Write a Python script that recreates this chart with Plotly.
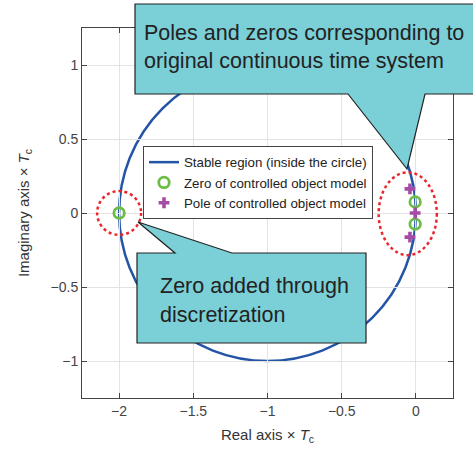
import plotly.graph_objects as go

# ---------------- data ----------------
zero_re = [-2.0, -0.005, -0.005]
zero_im = [0.0, 0.075, -0.075]
pole_re = [-0.04, -0.005, -0.04]
pole_im = [0.163, 0.0, -0.163]

circle_center = [-1.0, 0.0]
circle_radius = 1.0

# highlighted regions (center x, center y, half-width, half-height)
region_cx = [-2.0, -0.055]
region_cy = [0.0, -0.005]
region_rx = [0.148, 0.196]
region_ry = [0.148, 0.28]

x_ticks = [-2, -1.5, -1, -0.5, 0]
y_ticks = [-1, -0.5, 0, 0.5, 1]

legend_names = ["Stable region (inside the circle)",
                "Zero of controlled object model",
                "Pole of controlled object model"]
callout_top = ["Poles and zeros corresponding to", "original continuous time system"]
callout_bottom = ["Zero added through", "discretization"]

# ---------------- layout geometry ----------------
W, H = 473, 450
ML, MR, MT, MB = 82, 20, 28, 52
PW, PH = W - ML - MR, H - MT - MB


def px(x):
    return (x - ML) / PW


def py(y):
    return (H - MB - y) / PH


FONT = "Liberation Sans, Arial, sans-serif"
BLUE = "#2454a6"
GREEN = "#6cbd45"
PURPLE = "#a64ca6"
RED = "#e8262c"
TEAL = "#7bcfd7"

fig = go.Figure()

fig.add_trace(go.Scatter(x=[None], y=[None], mode="lines", name=legend_names[0],
                         line=dict(color=BLUE, width=2.5)))
fig.add_trace(go.Scatter(x=zero_re, y=zero_im, mode="markers", name=legend_names[1],
                         marker=dict(symbol="circle-open", size=10.5, color=GREEN,
                                     line=dict(width=2.8, color=GREEN))))
fig.add_trace(go.Scatter(x=pole_re, y=pole_im, mode="markers", name=legend_names[2],
                         marker=dict(symbol="cross", size=9, color=PURPLE,
                                     line=dict(width=0))))

shapes = []
# stable region circle
shapes.append(dict(type="circle", xref="x", yref="y", layer="below",
                   x0=circle_center[0] - circle_radius, x1=circle_center[0] + circle_radius,
                   y0=circle_center[1] - circle_radius, y1=circle_center[1] + circle_radius,
                   line=dict(color=BLUE, width=2.5)))
# dotted highlight ellipses
for cx, cy, rx, ry in zip(region_cx, region_cy, region_rx, region_ry):
    shapes.append(dict(type="circle", xref="x", yref="y", layer="above",
                       x0=cx - rx, x1=cx + rx, y0=cy - ry, y1=cy + ry,
                       line=dict(color=RED, width=2.5, dash="dot")))


def poly(points):
    return "M " + " L ".join(f"{px(a):.5f},{py(b):.5f}" for a, b in points) + " Z"


top_pts = [(135, 4), (480, 4), (480, 94), (425, 94), (407, 169), (348, 94), (135, 94)]
bot_pts = [(137, 253), (175, 253), (138, 222), (232, 253), (366, 253), (366, 343), (137, 343)]
for pts in (top_pts, bot_pts):
    shapes.append(dict(type="path", xref="paper", yref="paper", layer="above",
                       path=poly(pts), fillcolor=TEAL,
                       line=dict(color="#222222", width=1.2)))

annotations = []
for i, t in enumerate(callout_top):
    annotations.append(dict(text=t, xref="paper", yref="paper", x=px(142), y=py(33 + 28 * i),
                            xanchor="left", yanchor="middle", showarrow=False,
                            font=dict(family=FONT, size=21.5, color="#222222")))
for i, t in enumerate(callout_bottom):
    annotations.append(dict(text=t, xref="paper", yref="paper", x=px(158), y=py(286 + 29 * i),
                            xanchor="left", yanchor="middle", showarrow=False,
                            font=dict(family=FONT, size=21.5, color="#222222")))

axis_common = dict(showline=True, linecolor="#444444", linewidth=1, mirror="ticks",
                   ticks="inside", ticklen=5, tickcolor="#444444",
                   showgrid=True, gridcolor="#e3e3e3", gridwidth=1, zeroline=False,
                   tickfont=dict(family=FONT, size=14, color="#444444"))

fig.update_layout(
    width=W, height=H,
    margin=dict(l=ML, r=MR, t=MT, b=MB),
    paper_bgcolor="white", plot_bgcolor="white",
    font=dict(family=FONT, color="#333333"),
    showlegend=True,
    legend=dict(x=px(143), y=py(146), xanchor="left", yanchor="top",
                bgcolor="white", bordercolor="#444444", borderwidth=1,
                font=dict(family=FONT, size=13.3, color="#222222"),
                tracegroupgap=0, itemwidth=30),
    xaxis=dict(range=[-2.25, 0.25], tickvals=x_ticks, automargin=False,
               title=dict(text="Real axis × <i>T</i><sub>c</sub>", standoff=11,
                          font=dict(family=FONT, size=15, color="#333333")),
               **axis_common),
    yaxis=dict(range=[-1.25, 1.25], tickvals=y_ticks, automargin=False,
               title=dict(text="Imaginary axis × <i>T</i><sub>c</sub>", standoff=17,
                          font=dict(family=FONT, size=15, color="#333333")),
               **axis_common),
    shapes=shapes,
    annotations=annotations,
)

fig.write_html("out.html", config={"displayModeBar": False},
               post_script="document.body.style.margin='0';document.body.style.overflow='hidden';")
